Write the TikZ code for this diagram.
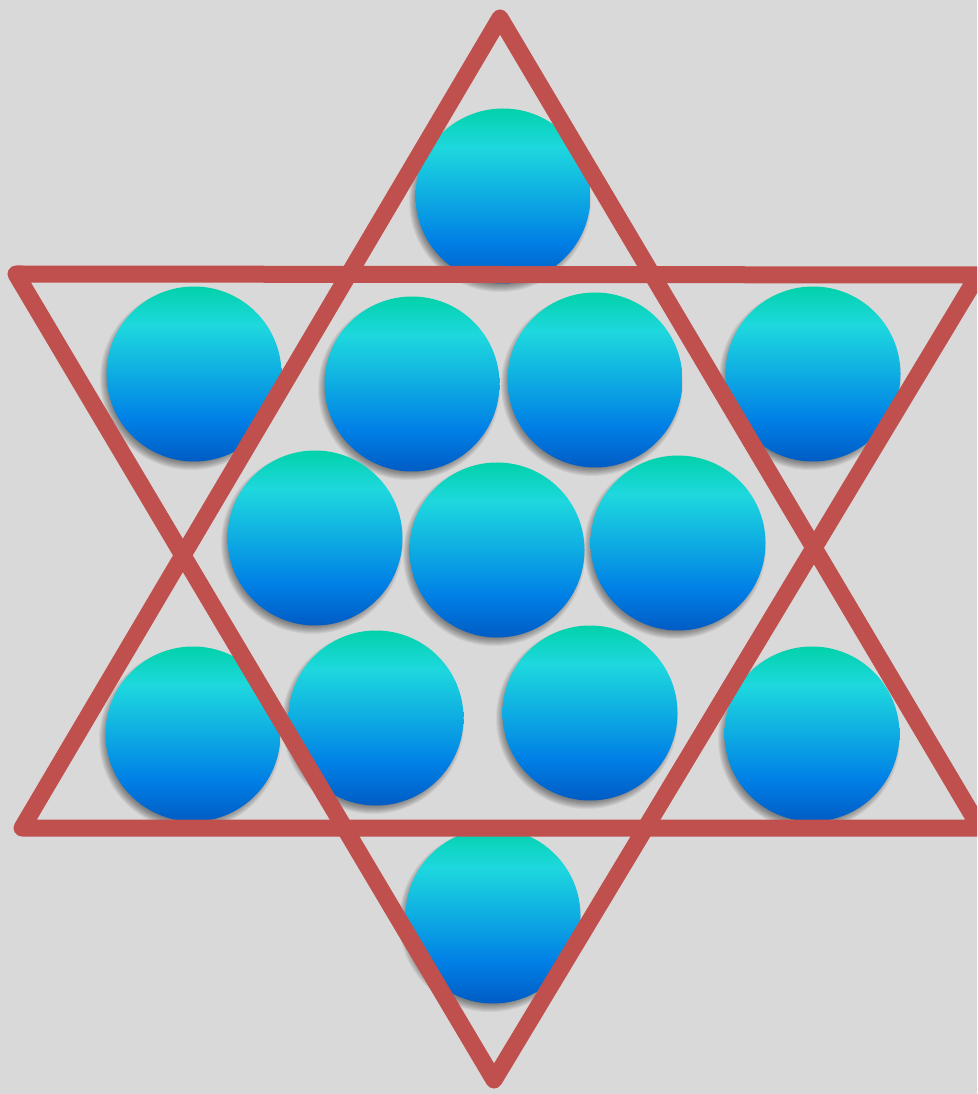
\documentclass[tikz,border=0pt]{standalone}
\usepackage{tikz,xcolor}
\usetikzlibrary{calc}

\definecolor{fundo}{HTML}{D9D9D9}
\definecolor{estrela}{HTML}{C0504D}
\definecolor{bolatopo}{RGB}{2,210,170}
\definecolor{bolaciano}{RGB}{30,216,222}
\definecolor{bolameio}{RGB}{14,172,226}
\definecolor{bolaazul}{RGB}{0,128,230}
\definecolor{bolabase}{RGB}{0,92,196}
\pgfdeclareverticalshading{bolashade}{100bp}{color(0bp)=(bolabase); color(25bp)=(bolabase); color(37bp)=(bolaazul); color(50bp)=(bolameio); color(64bp)=(bolaciano); color(75bp)=(bolatopo); color(100bp)=(bolatopo)}

\tikzset{
  bola/.style={circle, minimum size=17.5mm, inner sep=0pt, shading=bolashade},
  sombra/.style={fill=black, fill opacity=0.055},
  lado/.style={estrela, line width=1.7mm, line join=round, line cap=round}
}

\begin{document}
\begin{tikzpicture}[x=0.1mm, y=-0.1mm]
      % Fundo
      \fill[fundo] (0,0) rectangle (977,1094);
      \useasboundingbox (0,0) rectangle (977,1094);
      \clip (0,0) rectangle (977,1094);

      % Bolas (com sombra)
      \foreach \n/\p in {b1/{503,196}, b2/{194,374}, b3/{412,384}, b4/{595,380},
          b5/{813,374}, b6/{315,538}, b7/{497,550}, b8/{678,543},
          b9/{193,734}, b10/{376,718}, b11/{590,713}, b12/{812,734}, b13/{493,916}} {
        \foreach \k in {0,...,8}
          \fill[sombra] ($(\p)+(-3,5)$) circle (83+\k);
        \node[bola] (\n) at (\p) {};
      }

      % Triangulo para cima
      \coordinate (A) at (500,18);
      \coordinate (B) at (22,828);
      \coordinate (C) at (980,828);
      \draw[lado] (A) -- (B) -- (C) -- cycle;

      % Triangulo para baixo
      \coordinate (D) at (16,274);
      \coordinate (E) at (978,275);
      \coordinate (F) at (494,1080);
      \draw[lado] (D) -- (E) -- (F) -- cycle;
    \end{tikzpicture}
\end{document}
